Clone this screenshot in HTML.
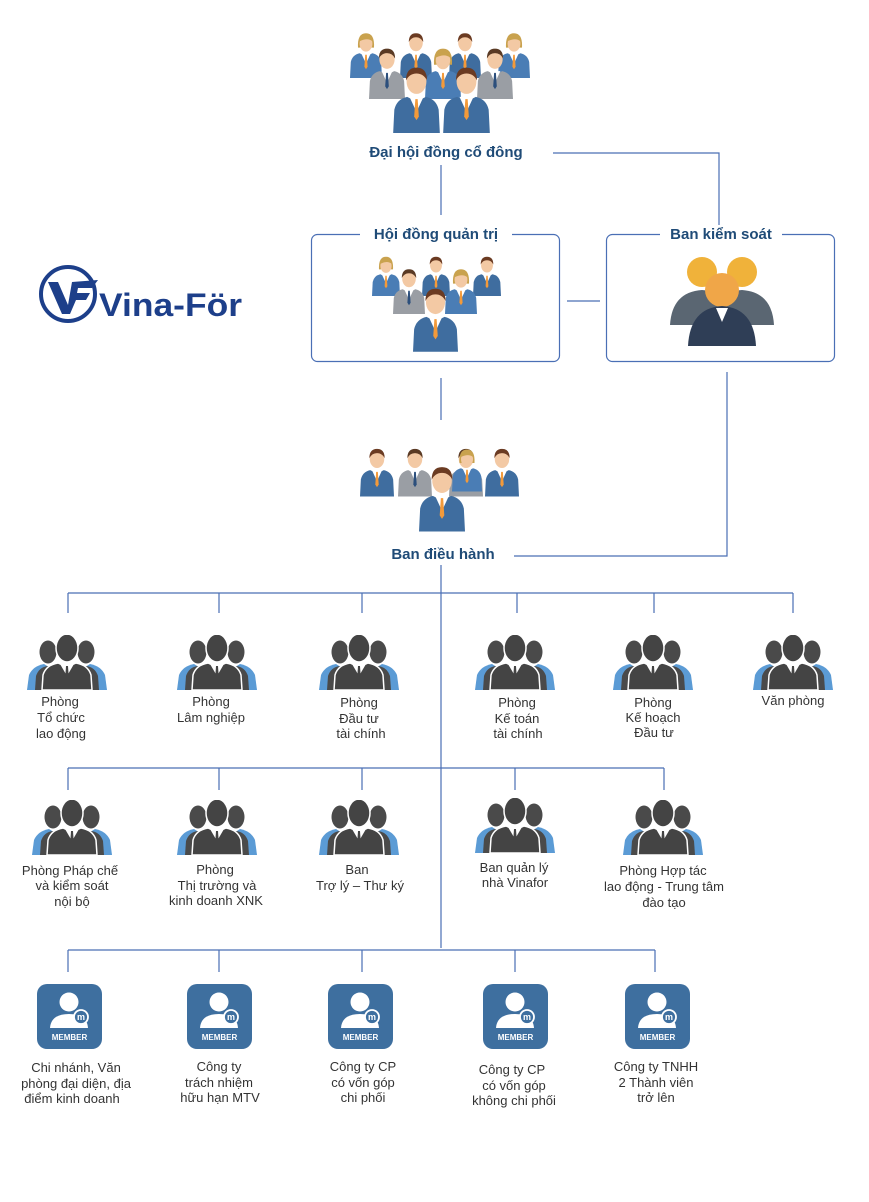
<!DOCTYPE html>
<html><head><meta charset="utf-8"><style>
html,body{margin:0;padding:0;background:#fff;}
svg{display:block}
.t{font-family:"Liberation Sans",sans-serif;font-size:13px;fill:#333;text-anchor:middle}
.h{font-family:"Liberation Sans",sans-serif;font-size:15px;font-weight:bold;fill:#1f4b77;text-anchor:middle}
.l{stroke:#4a6fb5;stroke-width:1.2;fill:none}
</style></head><body>
<svg width="869" height="1202" viewBox="0 0 869 1202" xmlns="http://www.w3.org/2000/svg">
<defs>
<symbol id="pb" viewBox="0 0 40 60">
 <path d="M0 60 L1 40 Q3 31 12 29 L20 33 L28 29 Q37 31 39 40 L40 60Z" fill="#3f6d9f"/>
 <path d="M14 29 L20 42 L26 29Z" fill="#fff"/>
 <path d="M19 31 L21 31 L22 46 L20 49 L18 46Z" fill="#f39a3a"/>
 <ellipse cx="20" cy="16" rx="8.5" ry="10.5" fill="#f3c9a4"/>
 <path d="M11 15 Q11 4 20 4 Q29 4 29 15 Q26 9 20 9 Q14 9 11 15Z" fill="#6b3b22"/>
</symbol>
<symbol id="pg" viewBox="0 0 40 60">
 <path d="M0 60 L1 40 Q3 31 12 29 L20 33 L28 29 Q37 31 39 40 L40 60Z" fill="#9a9ea4"/>
 <path d="M14 29 L20 42 L26 29Z" fill="#fff"/>
 <path d="M19 31 L21 31 L22 46 L20 49 L18 46Z" fill="#2c4f7c"/>
 <ellipse cx="20" cy="16" rx="8.5" ry="10.5" fill="#f3c9a4"/>
 <path d="M11 15 Q11 4 20 4 Q29 4 29 15 Q26 9 20 9 Q14 9 11 15Z" fill="#5a3a24"/>
</symbol>
<symbol id="pf" viewBox="0 0 40 60">
 <path d="M0 60 L1 40 Q3 31 12 29 L20 33 L28 29 Q37 31 39 40 L40 60Z" fill="#4a7db5"/>
 <path d="M14 29 L20 42 L26 29Z" fill="#fff"/>
 <path d="M19 31 L21 31 L22 46 L20 49 L18 46Z" fill="#f39a3a"/>
 <path d="M10 22 Q9 4 20 4 Q31 4 30 22 L27 22 L27 14 L13 14 L13 22Z" fill="#c9a24e"/>
 <ellipse cx="20" cy="17" rx="8" ry="10" fill="#f3c9a4"/>
 <path d="M12 14 Q14 6 20 6 Q27 6 28 14 Q22 9 12 14Z" fill="#c9a24e"/>
</symbol>
<symbol id="dk" viewBox="0 0 80 55">
 <path d="M0 55 L2 40 Q6 31 17 29 L28 36 L26 55Z" fill="#5b9bd5"/>
 <path d="M80 55 L78 40 Q74 31 63 29 L52 36 L54 55Z" fill="#5b9bd5"/>
 <ellipse cx="21" cy="17" rx="8.5" ry="11.5" fill="#4a4a4a"/>
 <ellipse cx="59" cy="17" rx="8.5" ry="11.5" fill="#4a4a4a"/>
 <path d="M8 55 L9 41 Q12 32 21 31 L30 35 L28 55Z" fill="#4a4a4a"/>
 <path d="M72 55 L71 41 Q68 32 59 31 L50 35 L52 55Z" fill="#4a4a4a"/>
 <path d="M15 55 L16 40 Q19 30 31 28 L40 32 L49 28 Q61 30 64 40 L65 55Z" fill="#444" stroke="#fff" stroke-width="1.5"/>
 <path d="M33 29 L40 41 L47 29Z" fill="#fff"/>
 <path d="M39 31 L41 31 L42 46 L40 50 L38 46Z" fill="#444"/>
 <ellipse cx="40" cy="13" rx="11" ry="14" fill="#444" stroke="#fff" stroke-width="1.5"/>
</symbol>
<symbol id="mb" viewBox="0 0 65 65">
 <rect width="65" height="65" rx="10" fill="#3e6f9f"/>
 <circle cx="32" cy="18" r="9.5" fill="#fff"/>
 <path d="M13 44 Q14 30 32 30 Q50 30 51 44Z" fill="#fff"/>
 <circle cx="44" cy="33" r="7" fill="#3e6f9f" stroke="#fff" stroke-width="1.8"/>
 <text x="44" y="36" font-family="Liberation Sans" font-size="9" font-weight="bold" fill="#fff" text-anchor="middle">m</text>
 <text x="32.5" y="56" font-family="Liberation Sans" font-size="8" font-weight="bold" fill="#fff" text-anchor="middle">MEMBER</text>
</symbol>
</defs>

<use href="#pf" x="350" y="30" width="32" height="48"/>
<use href="#pb" x="400" y="30" width="32" height="48"/>
<use href="#pb" x="449" y="30" width="32" height="48"/>
<use href="#pf" x="498" y="30" width="32" height="48"/>
<use href="#pg" x="369" y="45" width="36" height="54"/>
<use href="#pf" x="425" y="45" width="36" height="54"/>
<use href="#pg" x="477" y="45" width="36" height="54"/>
<use href="#pb" x="393" y="63" width="47" height="70"/>
<use href="#pb" x="443" y="63" width="47" height="70"/>
<text class="h" x="446" y="157">Đại hội đồng cổ đông</text>

<path class="l" d="M553 153 H719 V234"/>
<path class="l" d="M441 165 V215"/>

<rect x="311.5" y="234.5" width="248" height="127" rx="6" fill="none" stroke="#4a6fb5" stroke-width="1.2"/>
<rect x="360" y="225" width="152" height="18" fill="#fff"/>
<text class="h" x="436" y="239">Hội đồng quản trị</text>
<use href="#pf" x="372" y="253" width="28" height="44"/>
<use href="#pb" x="422" y="253" width="28" height="44"/>
<use href="#pb" x="473" y="253" width="28" height="44"/>
<use href="#pg" x="393" y="265" width="32" height="50"/>
<use href="#pf" x="445" y="265" width="32" height="50"/>
<use href="#pb" x="413" y="283" width="45" height="70"/>

<rect x="606.5" y="234.5" width="228" height="127" rx="6" fill="none" stroke="#4a6fb5" stroke-width="1.2"/>
<rect x="660" y="225" width="122" height="18" fill="#fff"/>
<text class="h" x="721" y="239">Ban kiểm soát</text>
<g>
 <circle cx="702" cy="272" r="15" fill="#f0b23a"/><circle cx="742" cy="272" r="15" fill="#f0b23a"/>
 <path d="M670 325 Q672 292 702 290 Q732 292 734 325Z" fill="#5a6672"/>
 <path d="M708 325 Q710 292 742 290 Q772 292 774 325Z" fill="#5a6672"/>
 <circle cx="722" cy="290" r="17" fill="#f0a648"/>
 <path d="M688 346 Q690 308 722 306 Q754 308 756 346Z" fill="#2f3e56"/>
 <path d="M716 308 L722 322 L728 308Z" fill="#fff"/>
</g>
<path class="l" d="M567 301 H600"/>
<path class="l" d="M441 378 V420"/>
<path class="l" d="M727 372 V556 H514"/>

<!-- logo -->
<circle cx="68" cy="294" r="27" fill="none" stroke="#1d3f8a" stroke-width="4"/>
<path d="M48 282 L58 282 L68 305 L72 282 L98 280 L92 288 L78 288 L77 293 L90 293 L86 300 L76 300 L70 314 L62 314Z" fill="#1d3f8a"/>
<text x="99" y="316" font-family="Liberation Sans" font-size="32" font-weight="bold" fill="#1d3f8a" textLength="143" lengthAdjust="spacingAndGlyphs">Vina-För</text>

<use href="#pb" x="360" y="445" width="34" height="52"/>
<use href="#pg" x="398" y="445" width="34" height="52"/>
<use href="#pg" x="449" y="445" width="34" height="52"/>
<use href="#pb" x="485" y="445" width="34" height="52"/>
<use href="#pf" x="452" y="445" width="30" height="48"/>
<use href="#pb" x="419" y="462" width="46" height="70"/>
<text class="h" x="443" y="559">Ban điều hành</text>

<path class="l" d="M441 565 V948"/>
<path class="l" d="M68 593 H793 M68 593 V613 M219 593 V613 M362 593 V613 M517 593 V613 M654 593 V613 M793 593 V613"/>
<use href="#dk" x="27" y="635" width="80" height="55"/>
<use href="#dk" x="177" y="635" width="80" height="55"/>
<use href="#dk" x="319" y="635" width="80" height="55"/>
<use href="#dk" x="475" y="635" width="80" height="55"/>
<use href="#dk" x="613" y="635" width="80" height="55"/>
<use href="#dk" x="753" y="635" width="80" height="55"/>
<text class="t" x="60" y="706">Phòng</text><text class="t" x="61" y="722">Tổ chức</text><text class="t" x="61" y="738">lao động</text>
<text class="t" x="211" y="706">Phòng</text><text class="t" x="211" y="722">Lâm nghiệp</text>
<text class="t" x="359" y="707">Phòng</text><text class="t" x="359" y="723">Đầu tư</text><text class="t" x="361" y="738">tài chính</text>
<text class="t" x="517" y="707">Phòng</text><text class="t" x="517" y="723">Kế toán</text><text class="t" x="518" y="738">tài chính</text>
<text class="t" x="653" y="707">Phòng</text><text class="t" x="653" y="722">Kế hoạch</text><text class="t" x="654" y="737">Đầu tư</text>
<text class="t" x="793" y="705">Văn phòng</text>

<path class="l" d="M68 768 H664 M68 768 V790 M219 768 V790 M362 768 V790 M515 768 V790 M664 768 V790"/>
<use href="#dk" x="32" y="800" width="80" height="55"/>
<use href="#dk" x="177" y="800" width="80" height="55"/>
<use href="#dk" x="319" y="800" width="80" height="55"/>
<use href="#dk" x="475" y="798" width="80" height="55"/>
<use href="#dk" x="623" y="800" width="80" height="55"/>
<text class="t" x="70" y="875">Phòng Pháp chế</text><text class="t" x="72" y="890">và kiểm soát</text><text class="t" x="72" y="906">nội bộ</text>
<text class="t" x="215" y="874">Phòng</text><text class="t" x="217" y="890">Thị trường và</text><text class="t" x="216" y="905">kinh doanh XNK</text>
<text class="t" x="357" y="874">Ban</text><text class="t" x="360" y="890">Trợ lý – Thư ký</text>
<text class="t" x="514" y="872">Ban quản lý</text><text class="t" x="515" y="887">nhà Vinafor</text>
<text class="t" x="663" y="875">Phòng Hợp tác</text><text class="t" x="664" y="891">lao động - Trung tâm</text><text class="t" x="664" y="907">đào tạo</text>

<path class="l" d="M68 950 H655 M68 950 V972 M219 950 V972 M362 950 V972 M515 950 V972 M655 950 V972"/>
<use href="#mb" x="37" y="984" width="65" height="65"/>
<use href="#mb" x="187" y="984" width="65" height="65"/>
<use href="#mb" x="328" y="984" width="65" height="65"/>
<use href="#mb" x="483" y="984" width="65" height="65"/>
<use href="#mb" x="625" y="984" width="65" height="65"/>
<text class="t" x="76" y="1072">Chi nhánh, Văn</text><text class="t" x="76" y="1088">phòng đại diện, địa</text><text class="t" x="72" y="1103">điểm kinh doanh</text>
<text class="t" x="219" y="1071">Công ty</text><text class="t" x="219" y="1087">trách nhiệm</text><text class="t" x="220" y="1102">hữu hạn MTV</text>
<text class="t" x="363" y="1071">Công ty CP</text><text class="t" x="363" y="1087">có  vốn góp</text><text class="t" x="363" y="1102">chi phối</text>
<text class="t" x="512" y="1074">Công ty CP</text><text class="t" x="514" y="1090">có vốn góp</text><text class="t" x="514" y="1105">không chi phối</text>
<text class="t" x="656" y="1071">Công ty TNHH</text><text class="t" x="656" y="1087">2 Thành viên</text><text class="t" x="656" y="1102">trở lên</text>
</svg>
</body></html>
